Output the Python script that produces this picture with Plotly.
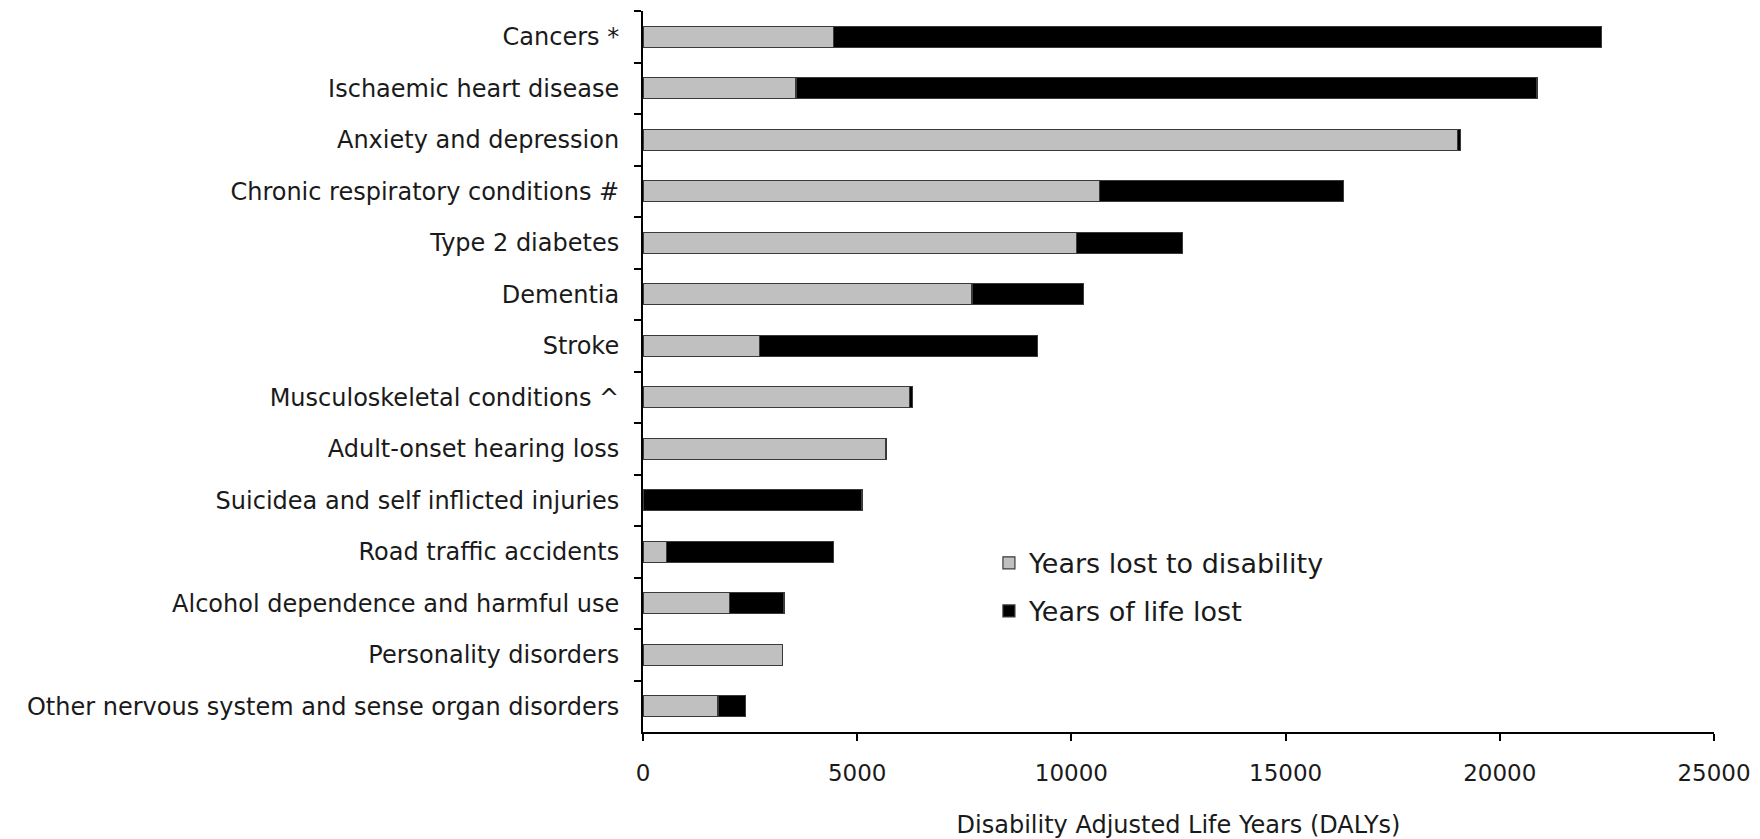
import plotly.graph_objects as go

# Burden of disease by condition, split into disability and premature death
conditions = [
    "Cancers *",
    "Ischaemic heart disease",
    "Anxiety and depression",
    "Chronic respiratory conditions #",
    "Type 2 diabetes",
    "Dementia",
    "Stroke",
    "Musculoskeletal conditions ^",
    "Adult-onset hearing loss",
    "Suicidea and self inflicted injuries",
    "Road traffic accidents",
    "Alcohol dependence and harmful use",
    "Personality disorders",
    "Other nervous system and sense organ disorders",
]
years_lost_disability = [4450, 3570, 19020, 10650, 10110, 7680, 2720, 6220, 5670, 0, 540, 2020, 3250, 1750]
years_life_lost = [17930, 17300, 60, 5700, 2480, 2610, 6480, 80, 0, 5110, 3900, 1270, 0, 650]
x_ticks = [0, 5000, 10000, 15000, 20000, 25000]

FONT = "DejaVu Sans, Verdana, sans-serif"

fig = go.Figure()
fig.add_trace(go.Bar(
    y=conditions, x=years_lost_disability, orientation="h",
    name="Years lost to disability", legendgroup="yld",
    marker=dict(color="#c0c0c0", line=dict(color="#3a3a3a", width=1.2)),
))
fig.add_trace(go.Bar(
    y=conditions, x=years_life_lost, orientation="h",
    name="Years of life lost", legendgroup="yll",
    marker=dict(color="#000000", line=dict(color="#3a3a3a", width=1.2)),
))

fig.update_layout(
    barmode="stack",
    bargap=0.59,
    width=1760, height=839,
    margin=dict(l=643, r=46, t=11, b=107, autoexpand=False),
    paper_bgcolor="white", plot_bgcolor="white",
    font=dict(family=FONT, size=24, color="#1a1a1a"),
    showlegend=True,
    legend=dict(
        x=0.323, y=0.268, xanchor="left", yanchor="top",
        bgcolor="rgba(0,0,0,0)", font=dict(size=27),
        itemwidth=30, tracegroupgap=10, traceorder="grouped",
    ),
    xaxis=dict(
        range=[0, 25000], tickvals=x_ticks, ticktext=[str(v) for v in x_ticks],
        showgrid=False, zeroline=False, automargin=False,
        showline=True, linecolor="#000000", linewidth=2,
        ticks="outside", ticklen=7, tickwidth=1.5, tickcolor="#000000",
        tickfont=dict(size=23),
        ticklabelstandoff=12,
        title=dict(text="Disability Adjusted Life Years (DALYs)", font=dict(size=24), standoff=33),
    ),
    yaxis=dict(
        type="category", autorange="reversed",
        showgrid=False, zeroline=False, automargin=False,
        showline=True, linecolor="#000000", linewidth=2,
        ticks="outside", ticklen=7, tickwidth=1.5, tickcolor="#000000",
        tickson="boundaries",
        tickfont=dict(size=24),
        ticklabelstandoff=17,
    ),
)

fig.write_html("out.html")
